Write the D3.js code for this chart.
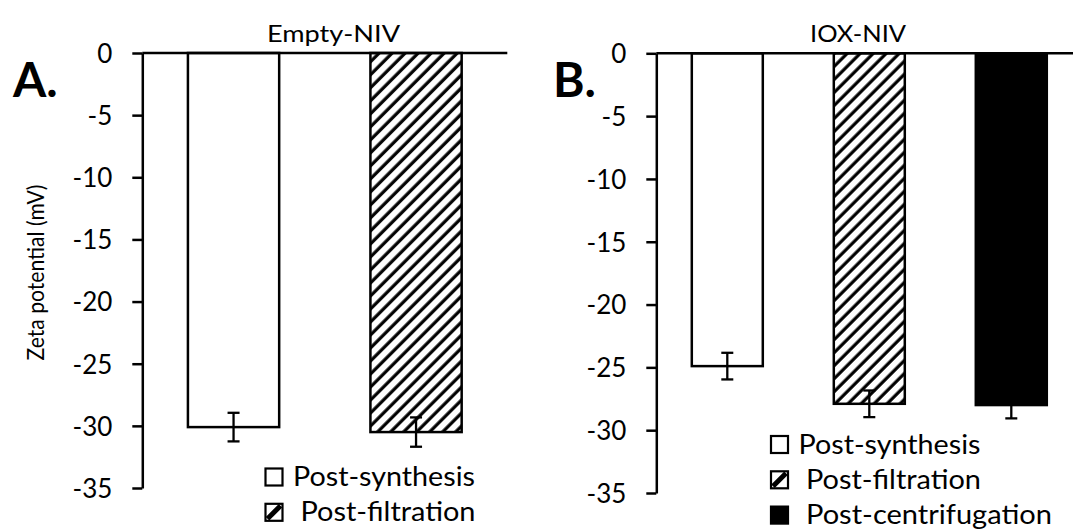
<!DOCTYPE html>
<html>
<head>
<meta charset="utf-8">
<script src="https://cdn.jsdelivr.net/npm/d3@7"></script>
<style>
  html, body { margin: 0; padding: 0; background: #fff; }
  svg { display: block; }
  text { font-family: Lato, "Open Sans", sans-serif; fill: #000; }
</style>
</head>
<body>
<svg id="chart" width="1073" height="529"></svg>
<script>
// ---- data ----
const seriesNames = ["Post-synthesis", "Post-filtration", "Post-centrifugation"];
const yTicks = [0, -5, -10, -15, -20, -25, -30, -35];
const yDomain = [0, -35];

const emptyCategories = ["Post-synthesis", "Post-filtration"];
const emptyValues = [-30.1, -30.5];
const emptyErrors = [1.15, 1.18];

const ioxCategories = ["Post-synthesis", "Post-filtration", "Post-centrifugation"];
const ioxValues = [-24.9, -27.9, -28.0];
const ioxErrors = [1.06, 1.06, 1.06];

const panelTitles = ["Empty-NIV", "IOX-NIV"];
const panelLetters = ["A.", "B."];
const yLabel = "Zeta potential (mV)";

// ---- drawing ----
const svg = d3.select("#chart");
const defs = svg.append("defs");
const pat = defs.append("pattern")
  .attr("id", "hatch")
  .attr("patternUnits", "userSpaceOnUse")
  .attr("width", 9.2).attr("height", 9.2)
  .attr("patternTransform", "rotate(45)");
pat.append("rect").attr("width", 9.2).attr("height", 9.2).attr("fill", "#fff");
pat.append("line").attr("x1", 2).attr("y1", 0).attr("x2", 2).attr("y2", 9.2)
  .attr("stroke", "#000").attr("stroke-width", 3.2);

const fills = {
  "Post-synthesis": "#fff",
  "Post-filtration": "url(#hatch)",
  "Post-centrifugation": "#000"
};
const legendTextWidth = {
  "Post-synthesis": 182,
  "Post-filtration": 175,
  "Post-centrifugation": 246
};

function drawPanel(cfg) {
  const g = svg.append("g");
  const y = d3.scaleLinear().domain(yDomain).range([cfg.y0, cfg.y1]);
  const x = d3.scaleBand().domain(cfg.categories).range([cfg.x0, cfg.x1])
    .paddingInner(0.5).paddingOuter(0.25);

  // bars
  g.selectAll("rect.bar").data(cfg.categories).enter().append("rect")
    .attr("class", "bar")
    .attr("x", d => x(d))
    .attr("width", x.bandwidth())
    .attr("y", y(0))
    .attr("height", (d, i) => y(cfg.values[i]) - y(0))
    .attr("fill", d => fills[d])
    .attr("stroke", "#000").attr("stroke-width", 2.5);

  // error bars
  const eb = g.selectAll("g.err").data(cfg.categories).enter().append("g");
  eb.append("line")
    .attr("x1", d => x(d) + x.bandwidth() / 2).attr("x2", d => x(d) + x.bandwidth() / 2)
    .attr("y1", (d, i) => y(cfg.values[i] + cfg.errors[i]))
    .attr("y2", (d, i) => y(cfg.values[i] - cfg.errors[i]))
    .attr("stroke", "#000").attr("stroke-width", 2.3);
  [1, -1].forEach(s => {
    eb.append("line")
      .attr("x1", d => x(d) + x.bandwidth() / 2 - 6).attr("x2", d => x(d) + x.bandwidth() / 2 + 6)
      .attr("y1", (d, i) => y(cfg.values[i] + s * cfg.errors[i]))
      .attr("y2", (d, i) => y(cfg.values[i] + s * cfg.errors[i]))
      .attr("stroke", "#000").attr("stroke-width", 2.3);
  });

  // zero line (category axis)
  g.append("line")
    .attr("x1", cfg.x0).attr("x2", cfg.x1)
    .attr("y1", y(0)).attr("y2", y(0))
    .attr("stroke", "#000").attr("stroke-width", 2.5);

  // y axis
  const ax = g.append("g").attr("transform", `translate(${cfg.x0},0)`)
    .call(d3.axisLeft(y).tickValues(yTicks).tickSize(10).tickSizeOuter(0).tickPadding(20)
      .tickFormat(d => String(d)));
  ax.select(".domain").attr("stroke", "#000").attr("stroke-width", 2.5);
  ax.selectAll(".tick line").attr("stroke", "#000").attr("stroke-width", 2.5);
  ax.selectAll(".tick text").style("font-size", "26px").style("font-family", "Lato, sans-serif")
    .attr("fill", "#000").attr("dy", "0.36em");

  // title
  g.append("text").attr("x", cfg.titleX).attr("y", 41.5)
    .attr("text-anchor", "middle").style("font-size", "24px")
    .attr("textLength", cfg.titleW).attr("lengthAdjust", "spacingAndGlyphs")
    .text(cfg.title);
  // letter
  g.append("text").attr("x", cfg.letterX).attr("y", 97)
    .style("font-size", "48px").style("font-weight", "bold").text(cfg.letter);

  // legend
  const lg = g.append("g");
  cfg.categories.forEach((c, i) => {
    const by = cfg.legY + i * 35.3;
    lg.append("rect").attr("x", cfg.legX).attr("y", by).attr("width", 17).attr("height", 17)
      .attr("fill", c === "Post-centrifugation" ? "#000" : "#fff")
      .attr("stroke", "#000").attr("stroke-width", 2.2);
    if (c === "Post-filtration") {
      lg.append("line").attr("x1", cfg.legX + 2).attr("y1", by + 15)
        .attr("x2", cfg.legX + 15).attr("y2", by + 2)
        .attr("stroke", "#000").attr("stroke-width", 5);
    }
    lg.append("text").attr("x", cfg.legX + (i === 0 ? 27.5 : 35))
      .attr("y", by + 17.5)
      .style("font-size", "26px")
      .attr("textLength", legendTextWidth[c]).attr("lengthAdjust", "spacingAndGlyphs")
      .text(c);
  });
}

drawPanel({
  categories: emptyCategories, values: emptyValues, errors: emptyErrors,
  x0: 142.3, x1: 507.3, y0: 53, y1: 488,
  title: panelTitles[0], titleX: 333.5, titleW: 133, letter: panelLetters[0], letterX: 13,
  legX: 265.5, legY: 468.5
});
drawPanel({
  categories: ioxCategories, values: ioxValues, errors: ioxErrors,
  x0: 656.3, x1: 1082.3, y0: 53.3, y1: 493,
  title: panelTitles[1], titleX: 858, titleW: 96, letter: panelLetters[1], letterX: 553,
  legX: 771, legY: 436
});

// y label
svg.append("text")
  .attr("transform", "translate(43.5,272.5) rotate(-90)")
  .attr("text-anchor", "middle")
  .style("font-size", "24px")
  .attr("textLength", 176).attr("lengthAdjust", "spacingAndGlyphs")
  .text(yLabel);
</script>
</body>
</html>
